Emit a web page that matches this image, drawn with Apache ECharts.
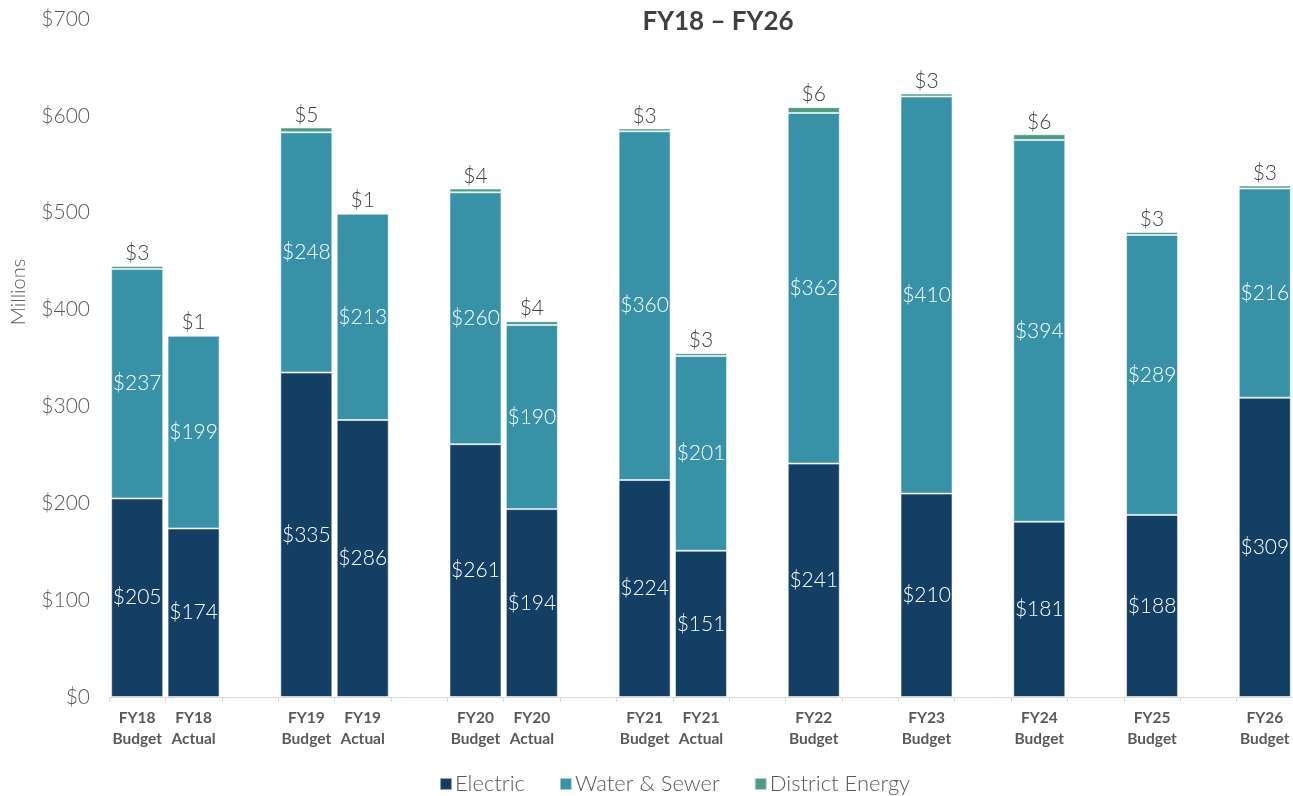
<!DOCTYPE html>
<html>
<head>
<meta charset="utf-8">
<script src="https://cdn.jsdelivr.net/npm/echarts@6/dist/echarts.min.js"></script>
<style>
    html, body { margin: 0; padding: 0; background: #fff; }
    #chart { width: 1293px; height: 796px; }
</style>
</head>
<body>
<div id="chart"></div>
<script>
// categories, '' = spacer slot between groups
var categories = ['FY18\nBudget', 'FY18\nActual', '', 'FY19\nBudget', 'FY19\nActual', '', 'FY20\nBudget', 'FY20\nActual', '',
    'FY21\nBudget', 'FY21\nActual', '', 'FY22\nBudget', '', 'FY23\nBudget', '', 'FY24\nBudget', '', 'FY25\nBudget', '', 'FY26\nBudget'];
var electric = [205, 174, '-', 335, 286, '-', 261, 194, '-', 224, 151, '-', 241, '-', 210, '-', 181, '-', 188, '-', 309];
var waterSewer = [237, 199, '-', 248, 213, '-', 260, 190, '-', 360, 201, '-', 362, '-', 410, '-', 394, '-', 289, '-', 216];
var districtEnergy = [3, 1, '-', 5, 1, '-', 4, 4, '-', 3, 3, '-', 6, '-', 3, '-', 6, '-', 3, '-', 3];
var yTicks = [0, 100, 200, 300, 400, 500, 600, 700];

var font = 'Lato';
var myChart = echarts.init(document.getElementById('chart'));

function money(p) {
    return '$' + p.value;
}

var option = {
    animation: false,
    textStyle: { fontFamily: font },
    title: {
        text: 'FY18 – FY26',
        left: 713,
        top: 4,
        textAlign: 'center',
        textStyle: { fontSize: 26, fontWeight: 'bold', color: '#404040', fontFamily: font }
    },
    legend: {
        top: 768,
        left: 434,
        itemWidth: 12,
        itemHeight: 12,
        itemGap: 34,
        icon: 'rect',
        textStyle: { fontSize: 22, fontWeight: 300, color: '#595959', fontFamily: font, padding: [0, 0, 0, -2] },
        data: ['Electric', 'Water & Sewer', 'District Energy']
    },
    grid: { left: 109, right: 0, top: 19, bottom: 99 },
    graphic: [{
        type: 'text',
        x: 9,
        y: 292,
        rotation: Math.PI / 2,
        style: {
            text: 'Millions',
            fontSize: 20,
            fontWeight: 300,
            fontFamily: font,
            fill: '#595959',
            textAlign: 'center',
            textVerticalAlign: 'top'
        }
    }],
    xAxis: {
        type: 'category',
        data: categories,
        axisLine: { lineStyle: { color: '#d9d9d9' } },
        axisTick: { show: true, length: 5, lineStyle: { color: '#d9d9d9' } },
        axisLabel: {
            interval: 0,
            fontSize: 15.5,
            fontWeight: 'bold',
            color: '#595959',
            lineHeight: 21,
            margin: 10,
            fontFamily: font
        }
    },
    yAxis: {
        type: 'value',
        min: yTicks[0],
        max: yTicks[yTicks.length - 1],
        interval: 100,
        axisLine: { show: false },
        axisTick: { show: false },
        splitLine: { show: false },
        axisLabel: {
            fontSize: 21,
            fontWeight: 300,
            color: '#595959',
            margin: 19,
            fontFamily: font,
            formatter: function (v) { return '$' + v; }
        }
    },
    series: [{
        name: 'Electric',
        type: 'bar',
        stack: 'total',
        barWidth: 52,
        data: electric,
        itemStyle: { color: '#123f63', borderColor: 'rgba(255,255,255,0.55)', borderWidth: 1 },
        label: { show: true, position: 'inside', color: '#fff', fontSize: 21, fontWeight: 300, fontFamily: font, formatter: money }
    }, {
        name: 'Water & Sewer',
        type: 'bar',
        stack: 'total',
        barWidth: 52,
        data: waterSewer,
        itemStyle: { color: '#3792a8', borderColor: 'rgba(255,255,255,0.55)', borderWidth: 1 },
        label: { show: true, position: 'inside', color: '#fff', fontSize: 21, fontWeight: 300, fontFamily: font, formatter: money }
    }, {
        name: 'District Energy',
        type: 'bar',
        stack: 'total',
        barWidth: 52,
        data: districtEnergy,
        itemStyle: { color: '#4d9a85', borderColor: 'rgba(255,255,255,0.55)', borderWidth: 1 },
        label: { show: true, position: 'top', distance: 2, color: '#404040', fontSize: 21, fontWeight: 300, fontFamily: font, formatter: money }
    }]
};
myChart.setOption(option);
</script>
</body>
</html>
